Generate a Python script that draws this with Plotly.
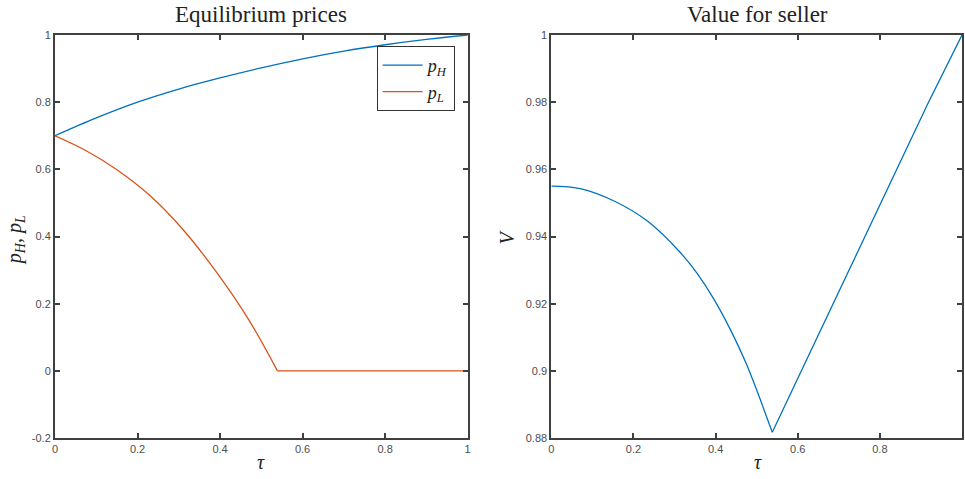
import plotly.graph_objects as go

# ---- data ----
tau_H = [0, 0.1, 0.2, 0.3, 0.4, 0.5, 0.6, 0.7, 0.8, 0.9, 1.0]
p_H = [0.700, 0.753, 0.800, 0.839, 0.872, 0.902, 0.929, 0.952, 0.971, 0.987, 1.000]

tau_L_curve = [0, 0.07, 0.15, 0.23, 0.31, 0.39, 0.47, 0.539]
p_L_curve = [0.700, 0.659, 0.599, 0.522, 0.421, 0.296, 0.151, 0.0]
tau_L_flat = [0.539, 1.0]
p_L_flat = [0.0, 0.0]

tau_V_curve = [0, 0.073, 0.154, 0.234, 0.315, 0.355, 0.395, 0.435, 0.475, 0.538]
V_curve = [0.955, 0.9542, 0.9505, 0.9446, 0.9351, 0.9290, 0.9215, 0.9125, 0.9020, 0.8817]
tau_V_rise = [0.538, 0.596, 0.676, 0.765, 0.837, 0.917, 1.0]
V_rise = [0.8817, 0.8967, 0.9175, 0.9405, 0.9592, 0.9796, 1.0]

x_ticks = [0, 0.2, 0.4, 0.6, 0.8, 1]
x_tick_text = ["0", "0.2", "0.4", "0.6", "0.8", "1"]
y1_ticks = [-0.2, 0, 0.2, 0.4, 0.6, 0.8, 1]
y1_tick_text = ["-0.2", "0", "0.2", "0.4", "0.6", "0.8", "1"]
y2_ticks = [0.88, 0.9, 0.92, 0.94, 0.96, 0.98, 1]
y2_tick_text = ["0.88", "0.9", "0.92", "0.94", "0.96", "0.98", "1"]

BLUE = "#0072BD"
ORANGE = "#D95319"
AX = "#404040"
SERIF = "Liberation Serif"
SANS = "Liberation Sans"

fig = go.Figure()
fig.add_trace(go.Scatter(x=tau_H, y=p_H, mode="lines", line=dict(color=BLUE, width=1.3, shape="spline"),
                         name="<i>p</i><sub><i>H</i></sub>", xaxis="x", yaxis="y"))
fig.add_trace(go.Scatter(x=tau_L_curve, y=p_L_curve, mode="lines",
                         line=dict(color=ORANGE, width=1.3, shape="spline"),
                         name="<i>p</i><sub><i>L</i></sub>", legendgroup="L", xaxis="x", yaxis="y"))
fig.add_trace(go.Scatter(x=tau_L_flat, y=p_L_flat, mode="lines", line=dict(color=ORANGE, width=1.3),
                         legendgroup="L", showlegend=False, xaxis="x", yaxis="y"))
fig.add_trace(go.Scatter(x=tau_V_curve, y=V_curve, mode="lines", line=dict(color=BLUE, width=1.3, shape="spline"),
                         showlegend=False, xaxis="x2", yaxis="y2"))
fig.add_trace(go.Scatter(x=tau_V_rise, y=V_rise, mode="lines", line=dict(color=BLUE, width=1.3),
                         showlegend=False, xaxis="x2", yaxis="y2"))

W, H = 965, 479
L, R, T, B = 55, 0, 35, 41
pw = W - L - R
ph = H - T - B

axis_common = dict(showline=True, linecolor=AX, linewidth=2, mirror="ticks", ticks="inside",
                   ticklen=5, tickwidth=2, tickcolor=AX, showgrid=False, zeroline=False,
                   tickfont=dict(family=SANS, size=11, color="#4d4d4d"))

fig.update_layout(
    width=W, height=H,
    margin=dict(l=L, r=R, t=T, b=B),
    plot_bgcolor="white", paper_bgcolor="white",
    xaxis=dict(domain=[0, 414 / pw], range=[0, 1], tickvals=x_ticks, ticktext=x_tick_text,
               anchor="y", **axis_common),
    yaxis=dict(domain=[0, 1], range=[-0.2, 1], tickvals=y1_ticks, ticktext=y1_tick_text,
               anchor="x", **axis_common),
    xaxis2=dict(domain=[(553 - L) / pw, 1], range=[0, 1], tickvals=x_ticks, ticktext=x_tick_text,
                anchor="y2", **axis_common),
    yaxis2=dict(domain=[0, 1], range=[0.88, 1], tickvals=y2_ticks, ticktext=y2_tick_text,
                anchor="x2", **axis_common),
    showlegend=True,
    legend=dict(x=(456 - L) / pw, y=1 - (46 - T) / ph, xanchor="right", yanchor="top",
                bgcolor="white", bordercolor="#333333", borderwidth=1,
                font=dict(family=SERIF, size=18, color="#222222"),
                tracegroupgap=0, itemwidth=40),
)

def px_to_paper_x(px):
    return (px - L) / pw

def px_to_paper_y(py):
    return 1 - (py - T) / ph

title_font = dict(family=SERIF, size=23, color="#222222")
ann_font = dict(family=SERIF, size=20, color="#222222")
annotations = [
    dict(text="Equilibrium prices", x=px_to_paper_x(262), y=px_to_paper_y(15), font=title_font),
    dict(text="Value for seller", x=px_to_paper_x(760), y=px_to_paper_y(15), font=title_font),
    dict(text="<i>τ</i>", x=px_to_paper_x(262), y=px_to_paper_y(462), font=ann_font),
    dict(text="<i>τ</i>", x=px_to_paper_x(760), y=px_to_paper_y(462), font=ann_font),
    dict(text="<i>p</i><sub><i>H</i></sub>, <i>p</i><sub><i>L</i></sub>", x=px_to_paper_x(15),
         y=px_to_paper_y(240), textangle=-90, font=ann_font),
    dict(text="<i>V</i>", x=px_to_paper_x(508), y=px_to_paper_y(237), textangle=-90, font=ann_font),
]
for a in annotations:
    a.update(xref="paper", yref="paper", xanchor="center", yanchor="middle", showarrow=False)
fig.update_layout(annotations=annotations)

fig.write_html("out.html", config={"displayModeBar": False},
               post_script="document.body.style.margin='0';document.body.style.overflow='hidden';")
